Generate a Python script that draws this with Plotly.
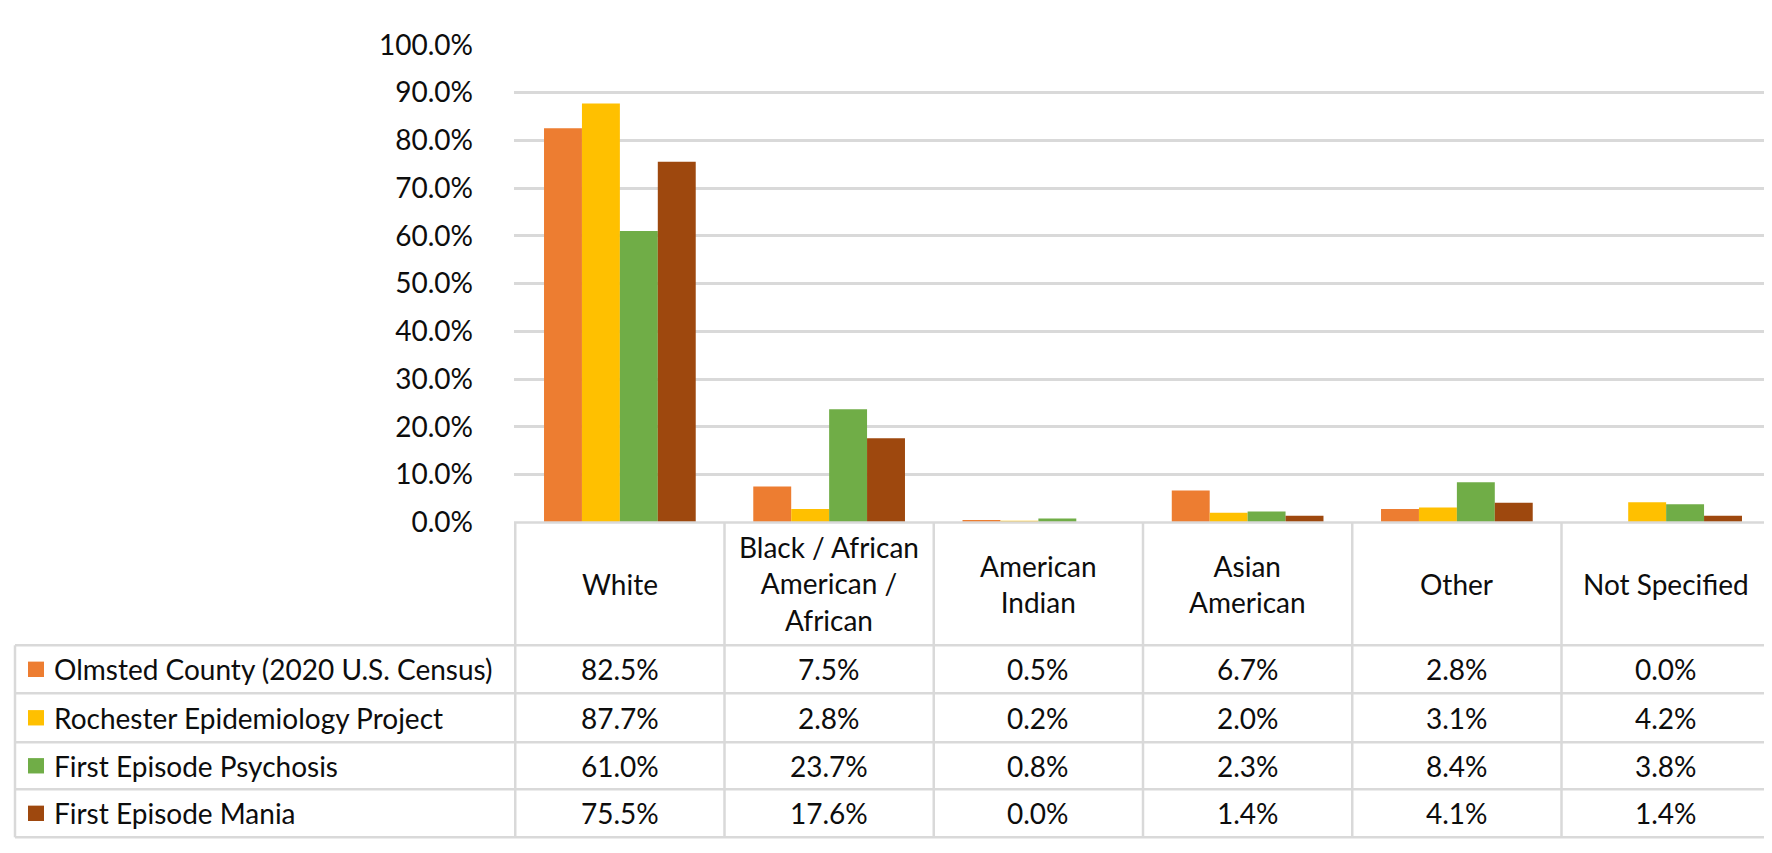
import plotly.graph_objects as go

categories = ["White", "Black / African American / African", "American Indian",
              "Asian American", "Other", "Not Specified"]
header_labels = ["White", "Black / African<br>American /<br>African", "American<br>Indian",
                 "Asian<br>American", "Other", "Not Specified"]
series_names = ["Olmsted County (2020 U.S. Census)", "Rochester Epidemiology Project",
                "First Episode Psychosis", "First Episode Mania"]
olmsted = [0.825, 0.075, 0.005, 0.067, 0.028, 0.000]
rochester = [0.877, 0.028, 0.002, 0.020, 0.031, 0.042]
psychosis = [0.610, 0.237, 0.008, 0.023, 0.084, 0.038]
mania = [0.755, 0.176, 0.000, 0.014, 0.041, 0.014]
y_ticks = [0.0, 0.1, 0.2, 0.3, 0.4, 0.5, 0.6, 0.7, 0.8, 0.9, 1.0]

series_values = [olmsted, rochester, psychosis, mania]
colors = ["#ED7D31", "#FFC000", "#70AD47", "#9E480E"]

W, H = 1772, 853
FONT = "Lato"
FS = 28
GRID = "#d9d9d9"
TXT = "#0d0d0d"


def px(x):
    return x / W


def py(y):
    # pixel from top -> paper from bottom
    return 1 - y / H


# layout in pixels
plot_left, plot_right = 506, 1764
y_zero, y_top = 517, 19.5
table_left = 7
row_lines = [645, 695, 746, 795, 845]

fig = go.Figure()
for name, vals, col in zip(series_names, series_values, colors):
    fig.add_trace(go.Bar(x=categories, y=vals, name=name, marker_color=col,
                         marker_line_width=0, showlegend=False))

shapes = []
annotations = []

# table grid: horizontal lines
shapes.append(dict(type="line", xref="paper", yref="paper", x0=px(plot_left), x1=px(plot_right),
                   y0=py(y_zero), y1=py(y_zero), line=dict(color=GRID, width=2.5)))
for yl in row_lines:
    shapes.append(dict(type="line", xref="paper", yref="paper", x0=px(table_left), x1=px(plot_right),
                       y0=py(yl), y1=py(yl), line=dict(color=GRID, width=2.5)))
# vertical lines at category boundaries
for k in range(len(categories) + 1):
    shapes.append(dict(type="line", xref="x", yref="paper", x0=k - 0.5, x1=k - 0.5,
                       y0=py(y_zero), y1=py(row_lines[-1]), line=dict(color=GRID, width=2.5)))
shapes.append(dict(type="line", xref="paper", yref="paper", x0=px(table_left), x1=px(table_left),
                   y0=py(row_lines[0]), y1=py(row_lines[-1]), line=dict(color=GRID, width=2.5)))

# header labels
for cat, lab in zip(categories, header_labels):
    annotations.append(dict(x=cat, xref="x", y=py((y_zero + row_lines[0]) / 2), yref="paper",
                            text=lab, showarrow=False, xanchor="center", yanchor="middle",
                            font=dict(family=FONT, size=FS, color=TXT)))

# rows: legend key, series name, values
for i, (name, vals, col) in enumerate(zip(series_names, series_values, colors)):
    yc = (row_lines[i] + row_lines[i + 1]) / 2
    shapes.append(dict(type="rect", xref="paper", yref="paper", x0=px(20), x1=px(36),
                       y0=py(yc + 8), y1=py(yc - 8), fillcolor=col, line=dict(width=0)))
    annotations.append(dict(x=px(44), xref="paper", y=py(yc), yref="paper", text=name,
                            showarrow=False, xanchor="left", yanchor="middle",
                            font=dict(family=FONT, size=FS, color=TXT)))
    for cat, v in zip(categories, vals):
        annotations.append(dict(x=cat, xref="x", y=py(yc), yref="paper", text=f"{v:.1%}",
                                showarrow=False, xanchor="center", yanchor="middle",
                                font=dict(family=FONT, size=FS, color=TXT)))

fig.update_layout(
    width=W, height=H,
    margin=dict(l=0, r=0, t=0, b=0),
    paper_bgcolor="white", plot_bgcolor="white",
    barmode="group", bargap=0.275, bargroupgap=0,
    xaxis=dict(domain=[px(plot_left), px(plot_right)], showticklabels=False,
               showgrid=False, zeroline=False, showline=False, ticks=""),
    yaxis=dict(domain=[py(y_zero), py(y_top)], range=[0, 1.0], tickvals=y_ticks,
               tickformat=".1%", showgrid=True, gridcolor=GRID, gridwidth=2.5,
               zeroline=False, showline=False, ticks="", ticklabelstandoff=40,
               tickfont=dict(family=FONT, size=FS, color=TXT)),
    shapes=shapes,
    annotations=annotations,
)

fig.write_html("out.html")
